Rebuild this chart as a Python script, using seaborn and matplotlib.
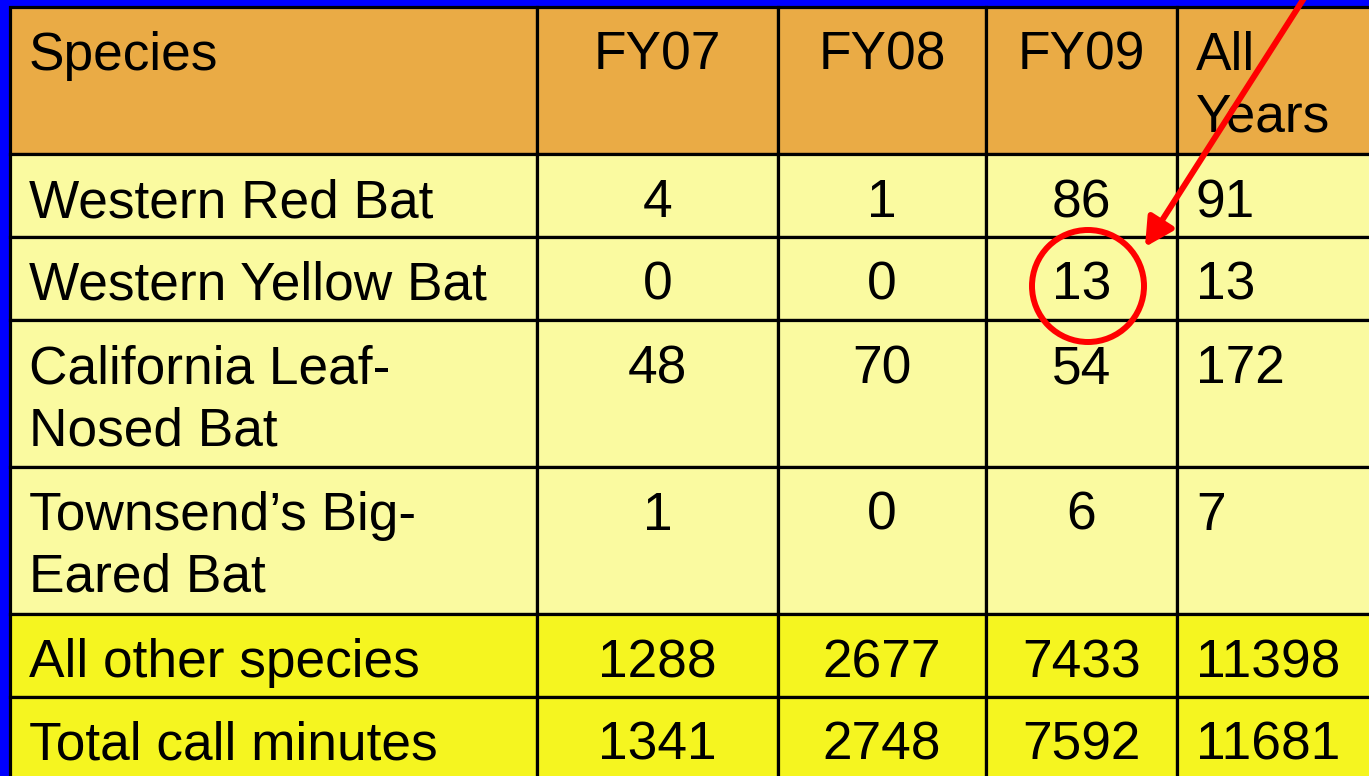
import matplotlib
matplotlib.use("Agg")
import matplotlib.pyplot as plt
from matplotlib.patches import Rectangle, Circle
import pandas as pd
import seaborn as sns

# --- data ---
header = ["Species", "FY07", "FY08", "FY09", "All\nYears"]
species = ["Western Red Bat", "Western Yellow Bat", "California Leaf-\nNosed Bat",
           "Townsend\u2019s Big-\nEared Bat", "All other species", "Total call minutes"]
fy07 = [4, 0, 48, 1, 1288, 1341]
fy08 = [1, 0, 70, 0, 2677, 2748]
fy09 = [86, 13, 54, 6, 7433, 7592]
all_years = [91, 13, 172, 7, 11398, 11681]

df = pd.DataFrame({"Species": species, "FY07": fy07, "FY08": fy08,
                   "FY09": fy09, "All\nYears": all_years})

# --- style ---
sns.set_theme(style="white")
plt.rcParams["font.family"] = ["Liberation Sans", "DejaVu Sans"]

c_head = "#EAAB45"
c_body = "#FAFAA0"
c_total = "#F5F520"
c_border = "#0000FF"

col_edges = [10, 537, 778, 986, 1177, 1380]
aligns = ["left", "center", "center", "center", "left"]
fs = 38.3
line_h = 62
pad_x = 19

fig = plt.figure(figsize=(13.69, 7.76), dpi=100)
fig.patch.set_facecolor(c_border)
ax = fig.add_axes([0, 0, 1, 1])
ax.set_xlim(0, 1369)
ax.set_ylim(776, 0)
ax.axis("off")

def row_height(lines):
    return 83 + 64 * (lines - 1)

def draw_row(y0, cells, color):
    nlines = max(str(c).count("\n") + 1 for c in cells)
    h = row_height(nlines)
    if cells[0] == header[0]:
        h = 147
    for j, txt in enumerate(cells):
        x0, x1 = col_edges[j], col_edges[j + 1]
        ax.add_patch(Rectangle((x0, y0), x1 - x0, h, facecolor=color,
                               edgecolor="black", lw=2.3, zorder=1))
        if aligns[j] == "left":
            tx, ha = x0 + pad_x, "left"
        else:
            tx, ha = (x0 + x1) / 2, "center"
        for k, line in enumerate(str(txt).split("\n")):
            ax.text(tx, y0 + 63 + k * line_h, line, ha=ha, va="baseline",
                    fontsize=fs, color="black", zorder=3)
    return y0 + h

y = 7
y = draw_row(y, header, c_head)
for i, row in df.iterrows():
    color = c_total if i >= 4 else c_body
    y = draw_row(y, list(row.values), color)

# highlight on the FY09 Western Yellow Bat value
ax.add_patch(Circle((1088, 286), 56, facecolor="none", edgecolor="#FF0000",
                    lw=4.3, zorder=4))
ax.annotate("", xy=(1145, 247), xytext=(1308, -8),
            arrowprops=dict(arrowstyle="-|>,head_length=0.85,head_width=0.45",
                            color="#FF0000", lw=4.3, mutation_scale=20,
                            shrinkA=0, shrinkB=0),
            zorder=5)

fig.savefig("out.png", dpi=100, facecolor=fig.get_facecolor())
